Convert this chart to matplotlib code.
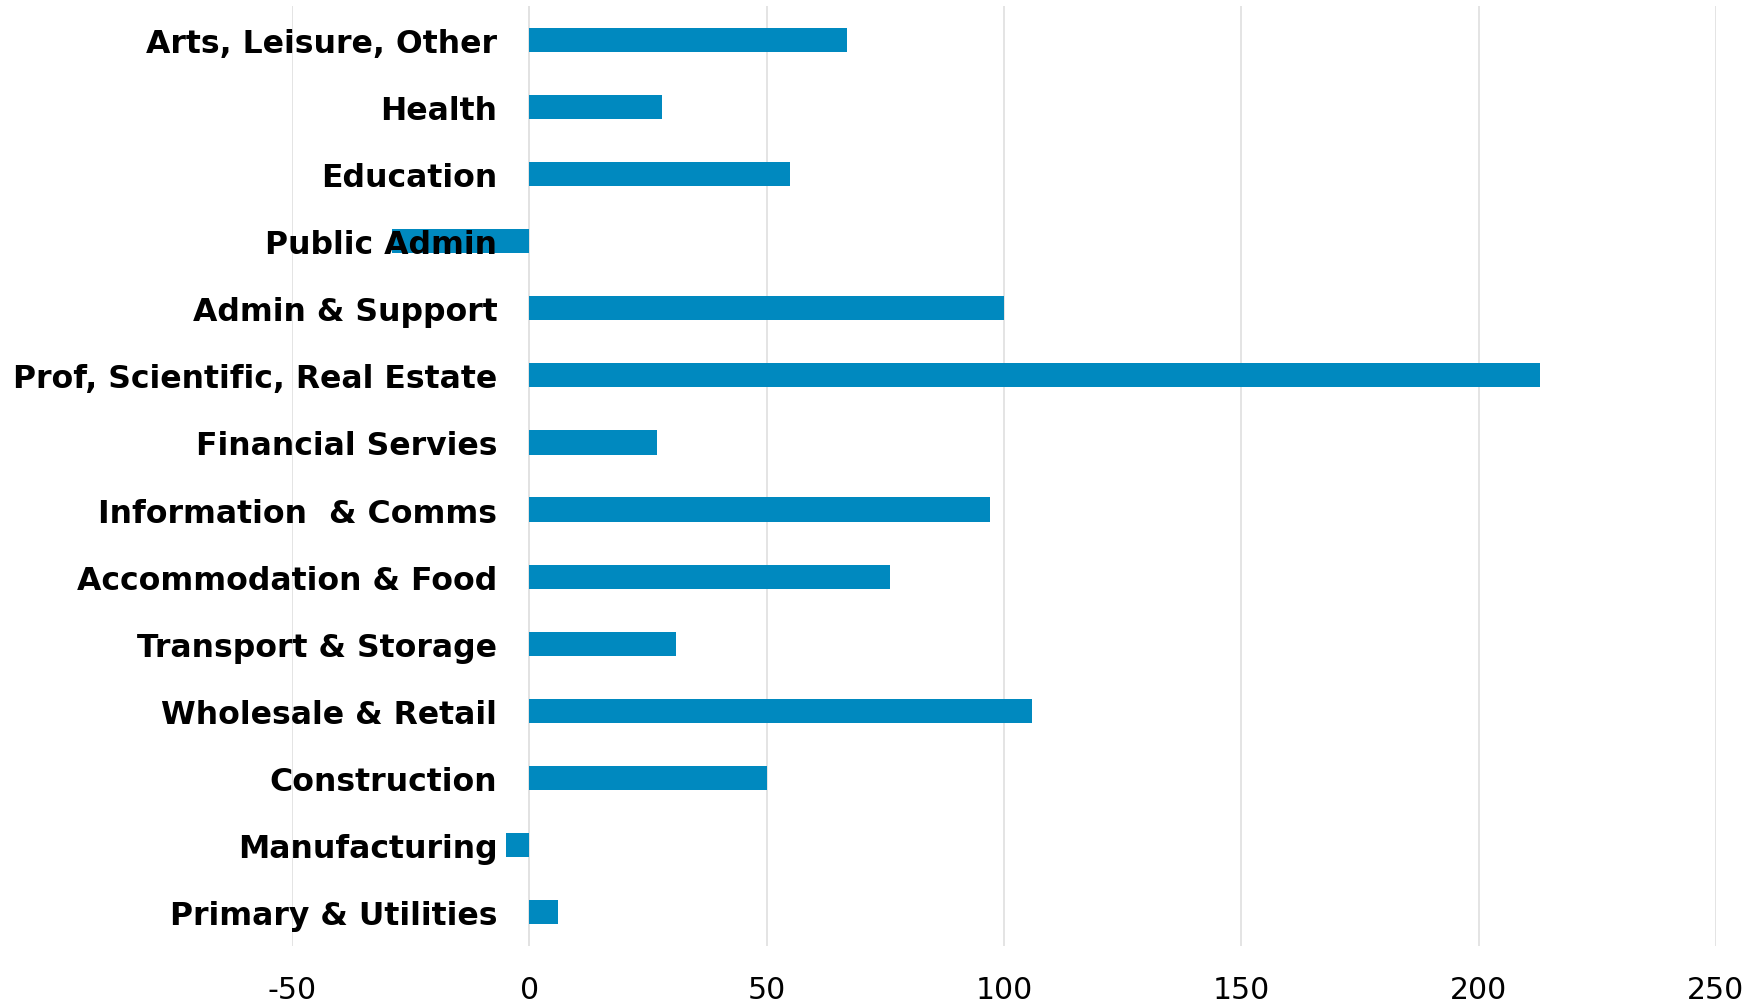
import matplotlib.pyplot as plt
import numpy as np

# sectors listed bottom to top
sectors = ['Primary & Utilities', 'Manufacturing', 'Construction', 'Wholesale & Retail',
           'Transport & Storage', 'Accommodation & Food', 'Information  & Comms',
           'Financial Servies', 'Prof, Scientific, Real Estate', 'Admin & Support',
           'Public Admin', 'Education', 'Health', 'Arts, Leisure, Other']
change = [6, -5, 50, 106, 31, 76, 97, 27, 213, 100, -29, 55, 28, 67]
x_ticks = [-50, 0, 50, 100, 150, 200, 250]

fig = plt.figure(figsize=(17.65, 10.04), dpi=100)
ax = fig.add_axes([0.1654, 0.0568, 0.8068, 0.9362])

# category labels sit against the zero line (set before styling ticks,
# moving the spine resets them)
ax.spines['left'].set_position(('data', 0))
ax.spines['left'].set_visible(False)
for s in ['top', 'right', 'bottom']:
    ax.spines[s].set_visible(False)

y = np.arange(len(sectors))
ax.barh(y, change, height=0.36, color='#0089BF', zorder=2)

ax.set_xlim(-50, 250)
ax.set_ylim(-0.5, len(sectors) - 0.5)
ax.set_xticks(x_ticks)
ax.set_xticklabels([str(t) for t in x_ticks], fontsize=21.5)
ax.set_yticks(y)
ax.set_yticklabels(sectors, fontsize=22.7, fontweight='bold')
ax.tick_params(axis='y', length=0, pad=23)
ax.tick_params(axis='x', length=0, pad=21)

ax.grid(axis='x', color='#E2E2E2', linewidth=1.3)
ax.xaxis.set_zorder(0)
ax.yaxis.set_zorder(5)
ax.axvline(0, color='#E2E2E2', linewidth=1.3, zorder=1)

fig.savefig('out.png', dpi=100)
